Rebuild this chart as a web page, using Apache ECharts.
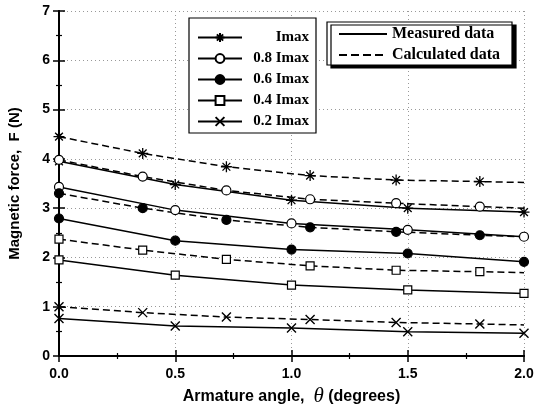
<!DOCTYPE html>
<html>
<head>
<meta charset="utf-8">
<script src="https://cdn.jsdelivr.net/npm/echarts@6/dist/echarts.min.js"></script>
<style>
html,body{margin:0;padding:0;background:#fff;}
#chart{width:543px;height:407px;}
</style>
</head>
<body>
<div id="chart"></div>
<script>
// ---- data ----
const xMeasured = [0, 0.5, 1.0, 1.5, 2.0];
const xCalculated = [0, 0.36, 0.72, 1.08, 1.45, 1.81, 2.0];

const imaxMeasured = [3.95, 3.48, 3.16, 3.00, 2.92];
const i08Measured  = [3.43, 2.96, 2.69, 2.56, 2.42];
const i06Measured  = [2.79, 2.34, 2.16, 2.08, 1.91];
const i04Measured  = [1.95, 1.64, 1.44, 1.34, 1.27];
const i02Measured  = [0.76, 0.61, 0.57, 0.49, 0.46];

const imaxCalculated = [4.45, 4.11, 3.84, 3.66, 3.57, 3.54, 3.52];
const i08Calculated  = [3.98, 3.64, 3.36, 3.18, 3.10, 3.03, 3.00];
const i06Calculated  = [3.30, 3.00, 2.76, 2.61, 2.52, 2.45, 2.42];
const i04Calculated  = [2.37, 2.15, 1.96, 1.83, 1.74, 1.71, 1.69];
const i02Calculated  = [1.00, 0.88, 0.79, 0.74, 0.68, 0.65, 0.63];

const currentNames = ['Imax', '0.8 Imax', '0.6 Imax', '0.4 Imax', '0.2 Imax'];
const typeNames = ['Measured data', 'Calculated data'];

// ---- styles ----
const starPath = 'path://M0,-10L0,10M-10,0L10,0M-7.07,-7.07L7.07,7.07M-7.07,7.07L7.07,-7.07';
const crossPath = 'path://M-1,-1L1,1M-1,1L1,-1';
const markers = [
  {symbol: starPath, size: 11, color: 'rgba(0,0,0,0)', border: 1.3},
  {symbol: 'circle', size: 9, color: '#fff', border: 1.2},
  {symbol: 'circle', size: 9, color: '#000', border: 1.2},
  {symbol: 'rect', size: 8, color: '#fff', border: 1.2},
  {symbol: crossPath, size: 9, color: 'rgba(0,0,0,0)', border: 1.4}
];
const dashPattern = [7, 4];

function pairs(xs, ys, lastNoSymbol) {
  return ys.map((y, i) => {
    const item = {value: [xs[i], y]};
    if (lastNoSymbol && i === ys.length - 1) item.symbol = 'none';
    return item;
  });
}

const measuredSets = [imaxMeasured, i08Measured, i06Measured, i04Measured, i02Measured];
const calculatedSets = [imaxCalculated, i08Calculated, i06Calculated, i04Calculated, i02Calculated];

const series = [];
measuredSets.forEach((ys, k) => {
  const m = markers[k];
  series.push({
    name: currentNames[k], type: 'line', data: pairs(xMeasured, ys, false),
    symbol: m.symbol, symbolSize: m.size, showAllSymbol: true,
    itemStyle: {color: m.color, borderColor: '#000', borderWidth: m.border},
    lineStyle: {color: '#000', width: 1.5, type: 'solid'},
    z: 3
  });
});
calculatedSets.forEach((ys, k) => {
  const m = markers[k];
  series.push({
    name: currentNames[k] + ' (calc)', type: 'line', data: pairs(xCalculated, ys, true),
    symbol: m.symbol, symbolSize: m.size, showAllSymbol: true,
    itemStyle: {color: m.color, borderColor: '#000', borderWidth: m.border},
    lineStyle: {color: '#000', width: 1.5, type: dashPattern},
    z: 3
  });
});
series.push({
  name: typeNames[0], type: 'line', data: [], symbol: 'none',
  lineStyle: {color: '#000', width: 1.5, type: 'solid'}, itemStyle: {color: '#000'}
});
series.push({
  name: typeNames[1], type: 'line', data: [], symbol: 'none',
  lineStyle: {color: '#000', width: 1.5, type: [8, 4]}, itemStyle: {color: '#000'}
});

const tickFont = {fontFamily: 'Arial, "Liberation Sans", sans-serif', fontWeight: 'bold', fontSize: 14, color: '#000'};
const gridLine = {show: true, lineStyle: {color: '#999', width: 1, type: [1, 3]}};
const axisLineStyle = {show: true, lineStyle: {color: '#000', width: 2}};

const option = {
  animation: false,
  backgroundColor: '#fff',
  grid: {left: 59, right: 19, top: 11, bottom: 51, containLabel: false, outerBoundsMode: 'none'},
  xAxis: [
    {
      type: 'value', min: 0, max: 2, interval: 0.5, position: 'bottom',
      name: '{a|Armature angle,  }{t|θ}{a| (degrees)}',
      nameLocation: 'middle', nameGap: 24,
      nameTextStyle: {
        rich: {
          a: {fontFamily: 'Arial, "Liberation Sans", sans-serif', fontWeight: 'bold', fontSize: 16, color: '#000'},
          t: {fontFamily: '"Liberation Serif", serif', fontStyle: 'italic', fontSize: 21, color: '#000'}
        }
      },
      axisLine: axisLineStyle,
      axisTick: {show: true, inside: true, length: 6, lineStyle: {color: '#000', width: 1.5}},
      minorTick: {show: true, splitNumber: 2, length: 3, lineStyle: {color: '#000', width: 1.2}},
      axisLabel: Object.assign({margin: 11, formatter: v => v.toFixed(1)}, tickFont),
      splitLine: gridLine
    },
    {
      type: 'value', min: 0, max: 2, interval: 0.5, position: 'top',
      axisLine: axisLineStyle,
      axisTick: {show: true, inside: true, length: 6, lineStyle: {color: '#000', width: 1.5}},
      minorTick: {show: true, splitNumber: 2, length: 3, lineStyle: {color: '#000', width: 1.2}},
      axisLabel: {show: false}, splitLine: {show: false}
    }
  ],
  yAxis: [
    {
      type: 'value', min: 0, max: 7, interval: 1, position: 'left',
      name: 'Magnetic force,  F (N)', nameLocation: 'middle', nameGap: 37, nameRotate: 90,
      nameTextStyle: {fontFamily: 'Arial, "Liberation Sans", sans-serif', fontWeight: 'bold', fontSize: 15, color: '#000'},
      axisLine: axisLineStyle,
      axisTick: {show: true, inside: true, length: 6, lineStyle: {color: '#000', width: 1.5}},
      minorTick: {show: true, splitNumber: 2, length: 3, lineStyle: {color: '#000', width: 1.2}},
      axisLabel: Object.assign({margin: 9}, tickFont),
      splitLine: gridLine
    },
    {
      type: 'value', min: 0, max: 7, interval: 1, position: 'right',
      axisLine: axisLineStyle,
      axisTick: {show: true, inside: true, length: 6, lineStyle: {color: '#000', width: 1.5}},
      minorTick: {show: true, splitNumber: 2, length: 3, lineStyle: {color: '#000', width: 1.2}},
      axisLabel: {show: false}, splitLine: {show: false}
    }
  ],
  legend: [
    {
      data: currentNames, orient: 'vertical', left: 189, top: 18,
      itemWidth: 44, itemHeight: 11, itemGap: 6,
      padding: [12, 7, 4, 8],
      backgroundColor: '#fff', borderColor: '#000', borderWidth: 1.2,
      formatter: name => '{t|' + name + '}',
      textStyle: {
        rich: {
          t: {width: 62, align: 'right', fontFamily: '"Liberation Serif", "Times New Roman", serif', fontWeight: 'bold', fontSize: 15, color: '#000'}
        }
      },
      selectedMode: false
    },
    {
      data: typeNames, orient: 'vertical', left: 327, top: 22,
      itemWidth: 48, itemHeight: 12, itemGap: 5,
      padding: [4, 12, 2, 11],
      backgroundColor: '#fff', borderColor: '#000', borderWidth: 1.2,
      shadowColor: '#000', shadowBlur: 0, shadowOffsetX: 4, shadowOffsetY: 3,
      itemStyle: {opacity: 0},
      textStyle: {fontFamily: '"Liberation Serif", "Times New Roman", serif', fontWeight: 'bold', fontSize: 16, color: '#000'},
      selectedMode: false
    }
  ],
  series: series
};

const chart = echarts.init(document.getElementById('chart'), null, {renderer: 'canvas'});
chart.setOption(option);
</script>
</body>
</html>
